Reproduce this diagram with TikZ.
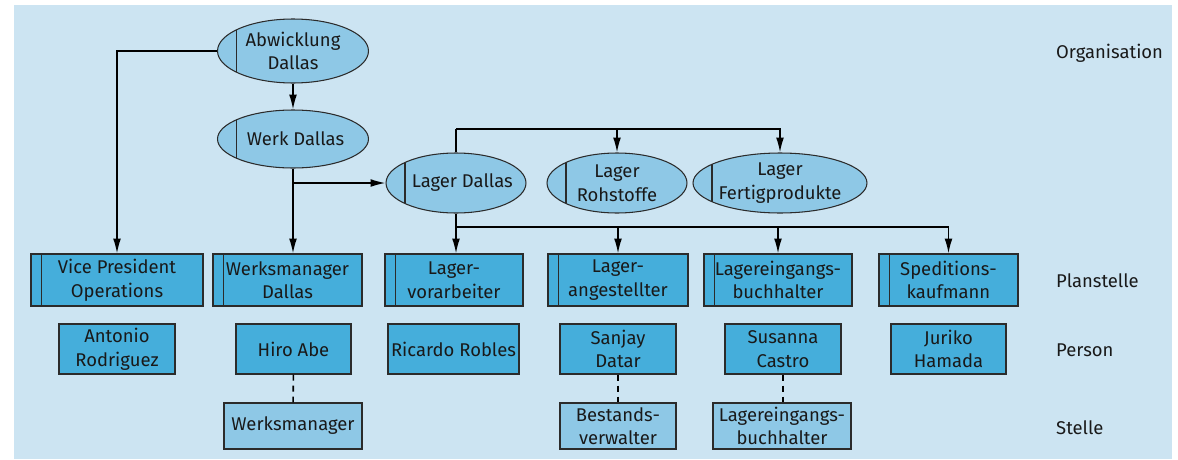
\documentclass[tikz,border=0pt]{standalone}
\usepackage{fontspec}
\setmainfont{Fira Sans}
\usepackage{tikz}
\usetikzlibrary{shapes,arrows.meta}
\definecolor{hgblau}{HTML}{CCE4F2}
\definecolor{ovblau}{HTML}{8EC8E6}
\definecolor{psblau}{HTML}{45AEDB}
\definecolor{rand}{HTML}{2B2B2B}

\begin{document}
\begin{tikzpicture}[x=0.02cm,y=-0.02cm]
			\tikzstyle{every node}=[font=\fontsize{10.5}{13.4}\selectfont, text=black!90]
			\tikzstyle{orgeinheit}=[ellipse, draw=rand, line width=0.6pt, fill=ovblau, inner xsep=-0.4cm, inner ysep=-0.1cm, align=center,
				path picture={\draw[rand, line width=0.6pt] ([xshift=0.38cm]path picture bounding box.north west) -- ([xshift=0.38cm]path picture bounding box.south west);}]
			\tikzstyle{planstelle}=[rectangle, draw=rand, line width=0.6pt, fill=psblau, inner sep=0pt, align=center, minimum height=1.04cm,
				path picture={\draw[rand, line width=0.6pt] ([xshift=0.21cm]path picture bounding box.north west) -- ([xshift=0.21cm]path picture bounding box.south west);}]
			\tikzstyle{person}=[rectangle, draw=rand, line width=0.6pt, fill=psblau, inner sep=0pt, align=center, minimum height=1cm]
			\tikzstyle{stelle}=[rectangle, draw=rand, line width=0.6pt, fill=ovblau, inner sep=0pt, align=center, minimum height=0.92cm]
			\tikzstyle{pfeil}=[draw=black, line width=0.9pt, -{Latex[length=8.5pt,width=4.5pt]}]
			\tikzstyle{linie}=[draw=black, line width=0.9pt]
			\tikzstyle{gestrichelt}=[draw=black, line width=0.9pt, dash pattern=on 0.12cm off 0.1cm]
			\tikzstyle{ebene}=[anchor=west]
			
			\useasboundingbox (0,0) rectangle (1178,460);
			\fill[hgblau] (14,5) rectangle (1172,459);
			
			% Organisation
			\node[orgeinheit, minimum width=3.02cm, minimum height=1.28cm] (abw) at (293,51) {Abwicklung\\Dallas};
			\node[orgeinheit, minimum width=3.02cm, minimum height=1.16cm] (werk) at (293,139) {\hspace*{0.1cm}Werk Dallas};
			\node[orgeinheit, minimum width=2.8cm, minimum height=1.2cm] (lagerD) at (456,183) {\hspace*{0.25cm}Lager Dallas};
			\node[orgeinheit, minimum width=2.8cm, minimum height=1.2cm] (lagerR) at (617,183) {Lager\\Rohstoffe};
			\node[orgeinheit, minimum width=3.48cm, minimum height=1.2cm] (lagerF) at (780,183) {Lager\\Fertigprodukte};
			
			% Planstellen
			\node[planstelle, minimum width=3.44cm] (vp) at (117,280) {Vice President\\Operations};
			\node[planstelle, minimum width=2.98cm] (wmd) at (287.5,280) {Werksmanager\\Dallas};
			\node[planstelle, minimum width=2.76cm] (lva) at (454,280) {Lager-\\vorarbeiter};
			\node[planstelle, minimum width=2.8cm] (lan) at (618,280) {Lager-\\angestellter};
			\node[planstelle, minimum width=2.96cm] (lbh) at (778,280) {Lagereingangs-\\buchhalter};
			\node[planstelle, minimum width=2.78cm] (spk) at (948.5,280) {Speditions-\\kaufmann};
			
			% Personen
			\node[person, minimum width=2.32cm] (ant) at (117,349) {Antonio\\Rodriguez};
			\node[person, minimum width=2.3cm] (hiro) at (293.5,349) {Hiro Abe};
			\node[person, minimum width=2.62cm] (ric) at (453.5,349) {Ricardo Robles};
			\node[person, minimum width=2.32cm] (san) at (618,349) {Sanjay\\Datar};
			\node[person, minimum width=2.32cm] (sus) at (783,349) {Susanna\\Castro};
			\node[person, minimum width=2.3cm] (jur) at (948.5,349) {Juriko\\Hamada};
			
			% Stellen
			\node[stelle, minimum width=2.76cm] (wm) at (293,426) {Werksmanager};
			\node[stelle, minimum width=2.32cm] (bes) at (618,426) {Bestands-\\verwalter};
			\node[stelle, minimum width=2.76cm] (lbhs) at (782,426) {Lagereingangs-\\buchhalter};
			
			% Ebenen
			\node[ebene] (lorg) at (1050,53) {Organisation};
			\node[ebene] (lplan) at (1050,281) {Planstelle};
			\node[ebene] (lpers) at (1050,350) {Person};
			\node[ebene] (lst) at (1050,428) {Stelle};
			
			% Verbindungen
			\coordinate (abzweig) at (werk.south |- lagerD.west);
			\coordinate (oben) at (456,129);
			\coordinate (unten) at (456,227);
			\draw[pfeil] (abw.west) -| (vp.north);
			\draw[pfeil] (abw) -- (werk);
			\draw[pfeil] (werk.south) -- (werk.south |- wmd.north);
			\draw[pfeil] (abzweig) -- (lagerD.west);
			\draw[linie] (lagerD.north) -- (oben);
			\draw[pfeil] (oben) -| (lagerR.north);
			\draw[pfeil] (oben) -| (lagerF.north);
			\draw[pfeil] (lagerD.south) -- (lagerD.south |- lva.north);
			\draw[pfeil] (unten) -| (lan.north);
			\draw[pfeil] (unten) -| (lbh.north);
			\draw[pfeil] (unten) -| (spk.north);
			\draw[gestrichelt] (hiro) -- (wm);
			\draw[gestrichelt] (san) -- (bes);
			\draw[gestrichelt] (sus) -- (sus |- lbhs.north);
			
\end{tikzpicture}
\end{document}
